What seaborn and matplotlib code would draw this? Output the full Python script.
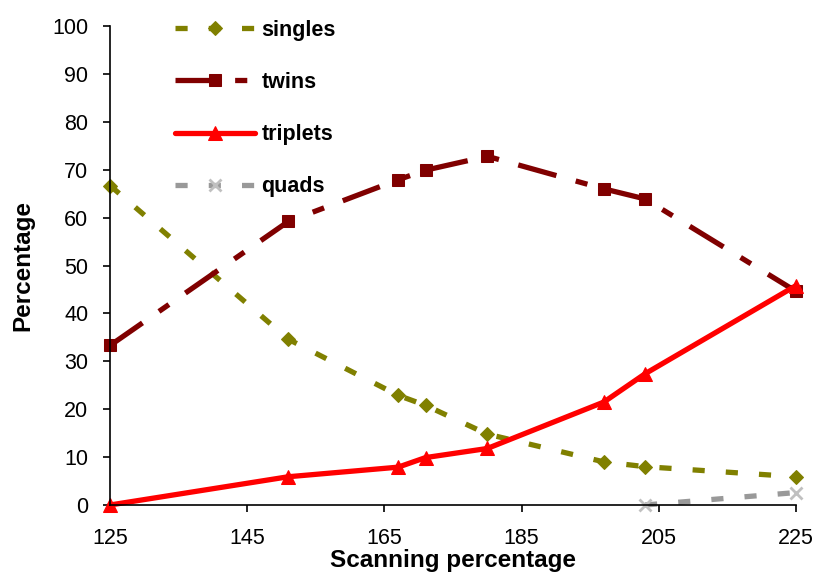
import matplotlib
matplotlib.use("Agg")
import matplotlib.pyplot as plt
import seaborn as sns

scan = [125, 151, 167, 171, 180, 197, 203, 225]
singles = [66.7, 34.6, 22.9, 20.8, 14.8, 9.0, 8.0, 5.9]
twins = [33.3, 59.2, 67.9, 69.9, 72.8, 66.0, 63.9, 44.6]
triplets = [0.0, 5.9, 7.9, 9.9, 11.8, 21.5, 27.4, 45.8]
quads_scan = [203, 225]
quads = [0.0, 2.6]

x_ticks = [125, 145, 165, 185, 205, 225]
y_ticks = [0, 10, 20, 30, 40, 50, 60, 70, 80, 90, 100]

sns.set_style("ticks")
plt.rcParams["font.family"] = ["Liberation Sans", "DejaVu Sans"]
plt.rcParams["text.color"] = "black"
plt.rcParams["axes.labelcolor"] = "black"

fig = plt.figure(figsize=(8.18, 5.72), dpi=100)
ax = fig.add_axes([110 / 818, 1 - 505 / 572, 686 / 818, 479 / 572])

lw = 3.8
sns.lineplot(x=scan, y=singles, ax=ax, color="#808000", lw=lw,
             linestyle=(0, (2.3, 4.0)), marker="D", markersize=7.6,
             markeredgecolor="#808000", markerfacecolor="#808000",
             label="singles", clip_on=False)
sns.lineplot(x=scan, y=twins, ax=ax, color="#800000", lw=lw,
             linestyle=(0, (7.5, 3.8, 2.3, 3.8)), marker="s", markersize=8.4,
             markeredgecolor="#800000", markerfacecolor="#800000",
             label="twins", clip_on=False)
sns.lineplot(x=scan, y=triplets, ax=ax, color="#FF0000", lw=lw,
             linestyle="-", marker="^", markersize=9.5,
             markeredgecolor="#FF0000", markerfacecolor="#FF0000",
             label="triplets", clip_on=False)
sns.lineplot(x=quads_scan, y=quads, ax=ax, color="#999999", lw=lw,
             linestyle=(0, (2.3, 4.0)), marker="x", markersize=9,
             markeredgewidth=2, markeredgecolor="#C0C0C0",
             label="quads", clip_on=False)

ax.set_xlim(125, 225)
ax.set_ylim(0, 100)
ax.set_xticks(x_ticks)
ax.set_yticks(y_ticks)
ax.tick_params(axis="both", direction="out", length=5, width=1.2,
               labelsize=15.5, colors="black", labelcolor="black")
ax.tick_params(axis="x", pad=11.5)
ax.tick_params(axis="y", pad=10.5)
for s in ["top", "right"]:
    ax.spines[s].set_visible(False)
for s in ["left", "bottom"]:
    ax.spines[s].set_linewidth(1.2)
    ax.spines[s].set_color("black")

ax.set_xlabel("Scanning percentage", fontsize=17.5, fontweight="bold",
              labelpad=0, color="black")
ax.set_ylabel("Percentage", fontsize=17.5, fontweight="bold", labelpad=13,
              color="black")

leg = ax.legend(loc="upper left", bbox_to_anchor=(0.095, 1.013), frameon=False,
                borderaxespad=0, borderpad=0, handlelength=3.7,
                handletextpad=0.3, labelspacing=1.45,
                prop={"size": 15.5, "weight": "bold"})

fig.savefig("out.png", dpi=100, facecolor="white")
